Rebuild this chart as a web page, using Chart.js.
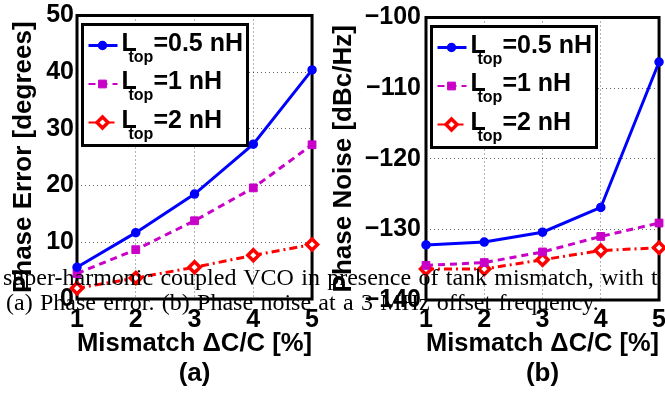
<!DOCTYPE html>
<html>
<head>
<meta charset="utf-8">
<script src="https://cdn.jsdelivr.net/npm/chart.js@4.4.1/dist/chart.umd.min.js"></script>
<style>
  html, body { margin: 0; padding: 0; background: #fff; }
  #page { position: relative; width: 665px; height: 396px; overflow: hidden; background: #fff; }
  .slot { position: absolute; top: 0; height: 396px; }
  #slot-a { left: 0; width: 328px; }
  #slot-b { left: 328px; width: 346px; }
  .caption {
    position: absolute; left: 3px; top: 265px;
    font: 24px/25px "Liberation Serif", "Times New Roman", serif;
    word-spacing: 1.3px;
    color: #000; white-space: nowrap; pointer-events: none;
  }
  .caption .second { padding-left: 3px; }
</style>
</head>
<body>
<div id="page">
  <div class="slot" id="slot-a"><canvas id="phase-error"></canvas></div>
  <div class="slot" id="slot-b"><canvas id="phase-noise"></canvas></div>
  <div class="caption">super-harmonic coupled VCO in presence of tank mismatch, with t<br><span class="second">(a) Phase error. (b) Phase noise at a 3 MHz offset frequency.</span></div>
</div>
<script>
// mismatch steps on the x axis, in percent
const MISMATCH = ['1', '2', '3', '4', '5']
// top inductance of each curve, in nH
const LTOP_VALUES = ['0.5', '1', '2']

// phase error [degrees]
const ERROR_LTOP_05 = [5.6, 11.7, 18.5, 27.3, 40.4]
const ERROR_LTOP_1 = [4.5, 8.7, 13.8, 19.6, 27.2]
const ERROR_LTOP_2 = [1.9, 3.7, 5.6, 7.7, 9.6]

// phase noise at 3 MHz offset [dBc/Hz]
const NOISE_LTOP_05 = [-132.2, -131.8, -130.4, -126.9, -106.3]
const NOISE_LTOP_1 = [-135.1, -134.7, -133.2, -131.0, -129.1]
const NOISE_LTOP_2 = [-135.6, -135.6, -134.3, -133.0, -132.6]

const ERROR_TICKS = [0, 10, 20, 30, 40, 50]
const NOISE_TICKS = [-140, -130, -120, -110, -100]

const SANS = '"Liberation Sans", Arial, Helvetica, sans-serif'

const SERIES_STYLES = [
  { color: '#0000ff', dash: [], pointStyle: 'circle', radius: 4, fill: '#0000ff', pointBorder: 1.5 },
  { color: '#c800c8', dash: [7, 5], pointStyle: 'rect', radius: 5.5, fill: '#c800c8', pointBorder: 1 },
  { color: '#ff0000', dash: [8, 4, 2, 4], pointStyle: 'rectRot', radius: 5.5, fill: '#ffffff', pointBorder: 3.5 },
]

function datasetFor(values, index) {
  const s = SERIES_STYLES[index]
  return {
    label: `Ltop=${LTOP_VALUES[index]} nH`,
    data: values,
    borderColor: s.color,
    borderWidth: 3,
    borderDash: s.dash,
    pointStyle: s.pointStyle,
    pointRadius: s.radius,
    pointBackgroundColor: s.fill,
    pointBorderColor: s.color,
    pointBorderWidth: s.pointBorder,
    tension: 0,
    clip: false,
  }
}

// thick black box around the plot area, markers go on top of it
const frameBox = {
  id: 'frameBox',
  beforeDatasetsDraw(chart) {
    const { ctx, chartArea: a } = chart
    ctx.save()
    ctx.lineWidth = 3
    ctx.strokeStyle = '#000'
    ctx.strokeRect(a.left, a.top, a.right - a.left, a.bottom - a.top)
    ctx.restore()
  },
}

// legend with the "top" subscript on L
const ltopLegend = {
  id: 'ltopLegend',
  afterDatasetsDraw(chart) {
    const { ctx, chartArea: a } = chart
    const x0 = a.left + 5.5
    const y0 = a.top + 9
    ctx.save()
    ctx.fillStyle = '#fff'
    ctx.fillRect(x0, y0, 165, 121)
    ctx.lineWidth = 3
    ctx.strokeStyle = '#000'
    ctx.strokeRect(x0, y0, 165, 121)

    chart.data.datasets.forEach((ds, i) => {
      const y = y0 + 21 + i * 38.5
      ctx.strokeStyle = ds.borderColor
      ctx.lineWidth = i === 0 ? 3 : 2
      ctx.setLineDash(ds.borderDash)
      ctx.beginPath()
      ctx.moveTo(x0 + 6, y)
      ctx.lineTo(x0 + 35, y)
      ctx.stroke()
      ctx.setLineDash([])

      ctx.fillStyle = ds.pointBackgroundColor
      ctx.strokeStyle = ds.pointBorderColor
      ctx.lineWidth = ds.pointBorderWidth
      Chart.helpers.drawPoint(ctx, {
        pointStyle: ds.pointStyle, radius: ds.pointRadius, rotation: 0, borderWidth: ds.pointBorderWidth,
      }, x0 + 20, y)

      ctx.fillStyle = '#000'
      ctx.textAlign = 'left'
      ctx.textBaseline = 'alphabetic'
      const lx = x0 + 39
      ctx.font = `bold 25px ${SANS}`
      ctx.fillText('L', lx, y + 5)
      ctx.font = `bold 16px ${SANS}`
      ctx.fillText('top', lx + 7, y + 16)
      const tx = lx + 7 + ctx.measureText('top').width
      ctx.font = `bold 25px ${SANS}`
      ctx.fillText(`=${LTOP_VALUES[i]} nH`, tx, y + 5)
    })
    ctx.restore()
  },
}

function makePanel(canvas, cfg) {
  return new Chart(canvas, {
    type: 'line',
    data: {
      labels: MISMATCH,
      datasets: cfg.series.map((values, i) => datasetFor(values, i)),
    },
    options: {
      responsive: true,
      maintainAspectRatio: false,
      animation: false,
      events: [],
      layout: { padding: { left: 0, top: 13, right: cfg.padRight, bottom: 0 } },
      plugins: { legend: { display: false }, tooltip: { enabled: false } },
      scales: {
        x: {
          type: 'category',
          offset: false,
          afterFit: (scale) => { scale.height = cfg.xHeight },
          grid: { offset: false, color: 'rgba(0,0,0,0.6)', lineWidth: 1, drawTicks: false, tickLength: 0 },
          border: { display: false, dash: [1, 3] },
          ticks: {
            color: '#000', padding: cfg.xTickPad, maxRotation: 0, autoSkip: false,
            font: { family: SANS, size: 25, weight: 'bold', lineHeight: 1 },
          },
          title: {
            display: true,
            text: ['Mismatch \u0394C/C [%]', cfg.panel],
            color: '#000',
            padding: { top: 0, bottom: 7 },
            font: { family: SANS, size: 26, weight: 'bold', lineHeight: '30px' },
          },
        },
        y: {
          min: cfg.ticks[0],
          max: cfg.ticks[cfg.ticks.length - 1],
          afterFit: (scale) => { scale.width = cfg.yWidth },
          afterBuildTicks: (scale) => { scale.ticks = cfg.ticks.map((v) => ({ value: v })) },
          grid: { color: 'rgba(0,0,0,0.6)', lineWidth: 1, drawTicks: false, tickLength: 0 },
          border: { display: false, dash: [1, 3] },
          ticks: {
            color: '#000', padding: cfg.yTickPad,
            font: { family: SANS, size: 25, weight: 'bold', lineHeight: 1 },
            callback: (v) => String(v).replace('-', '\u2212'),
          },
          title: {
            display: true,
            text: cfg.yTitle,
            color: '#000',
            padding: { top: cfg.yTitlePad, bottom: 0 },
            font: { family: SANS, size: 26, weight: 'bold', lineHeight: 1 },
          },
        },
      },
    },
    plugins: [frameBox, ltopLegend],
  })
}

makePanel(document.getElementById('phase-error'), {
  series: [ERROR_LTOP_05, ERROR_LTOP_1, ERROR_LTOP_2],
  ticks: ERROR_TICKS,
  yTitle: 'Phase Error [degrees]',
  panel: '(a)',
  yWidth: 77,
  xHeight: 97,
  padRight: 10,
  yTickPad: 3,
  xTickPad: 9,
  yTitlePad: 11,
})

makePanel(document.getElementById('phase-noise'), {
  series: [NOISE_LTOP_05, NOISE_LTOP_1, NOISE_LTOP_2],
  ticks: NOISE_TICKS,
  yTitle: 'Phase Noise [dBc/Hz]',
  panel: '(b)',
  yWidth: 98,
  xHeight: 96,
  padRight: 11,
  yTickPad: 5,
  xTickPad: 8,
  yTitlePad: 3,
})
</script>
</body>
</html>
